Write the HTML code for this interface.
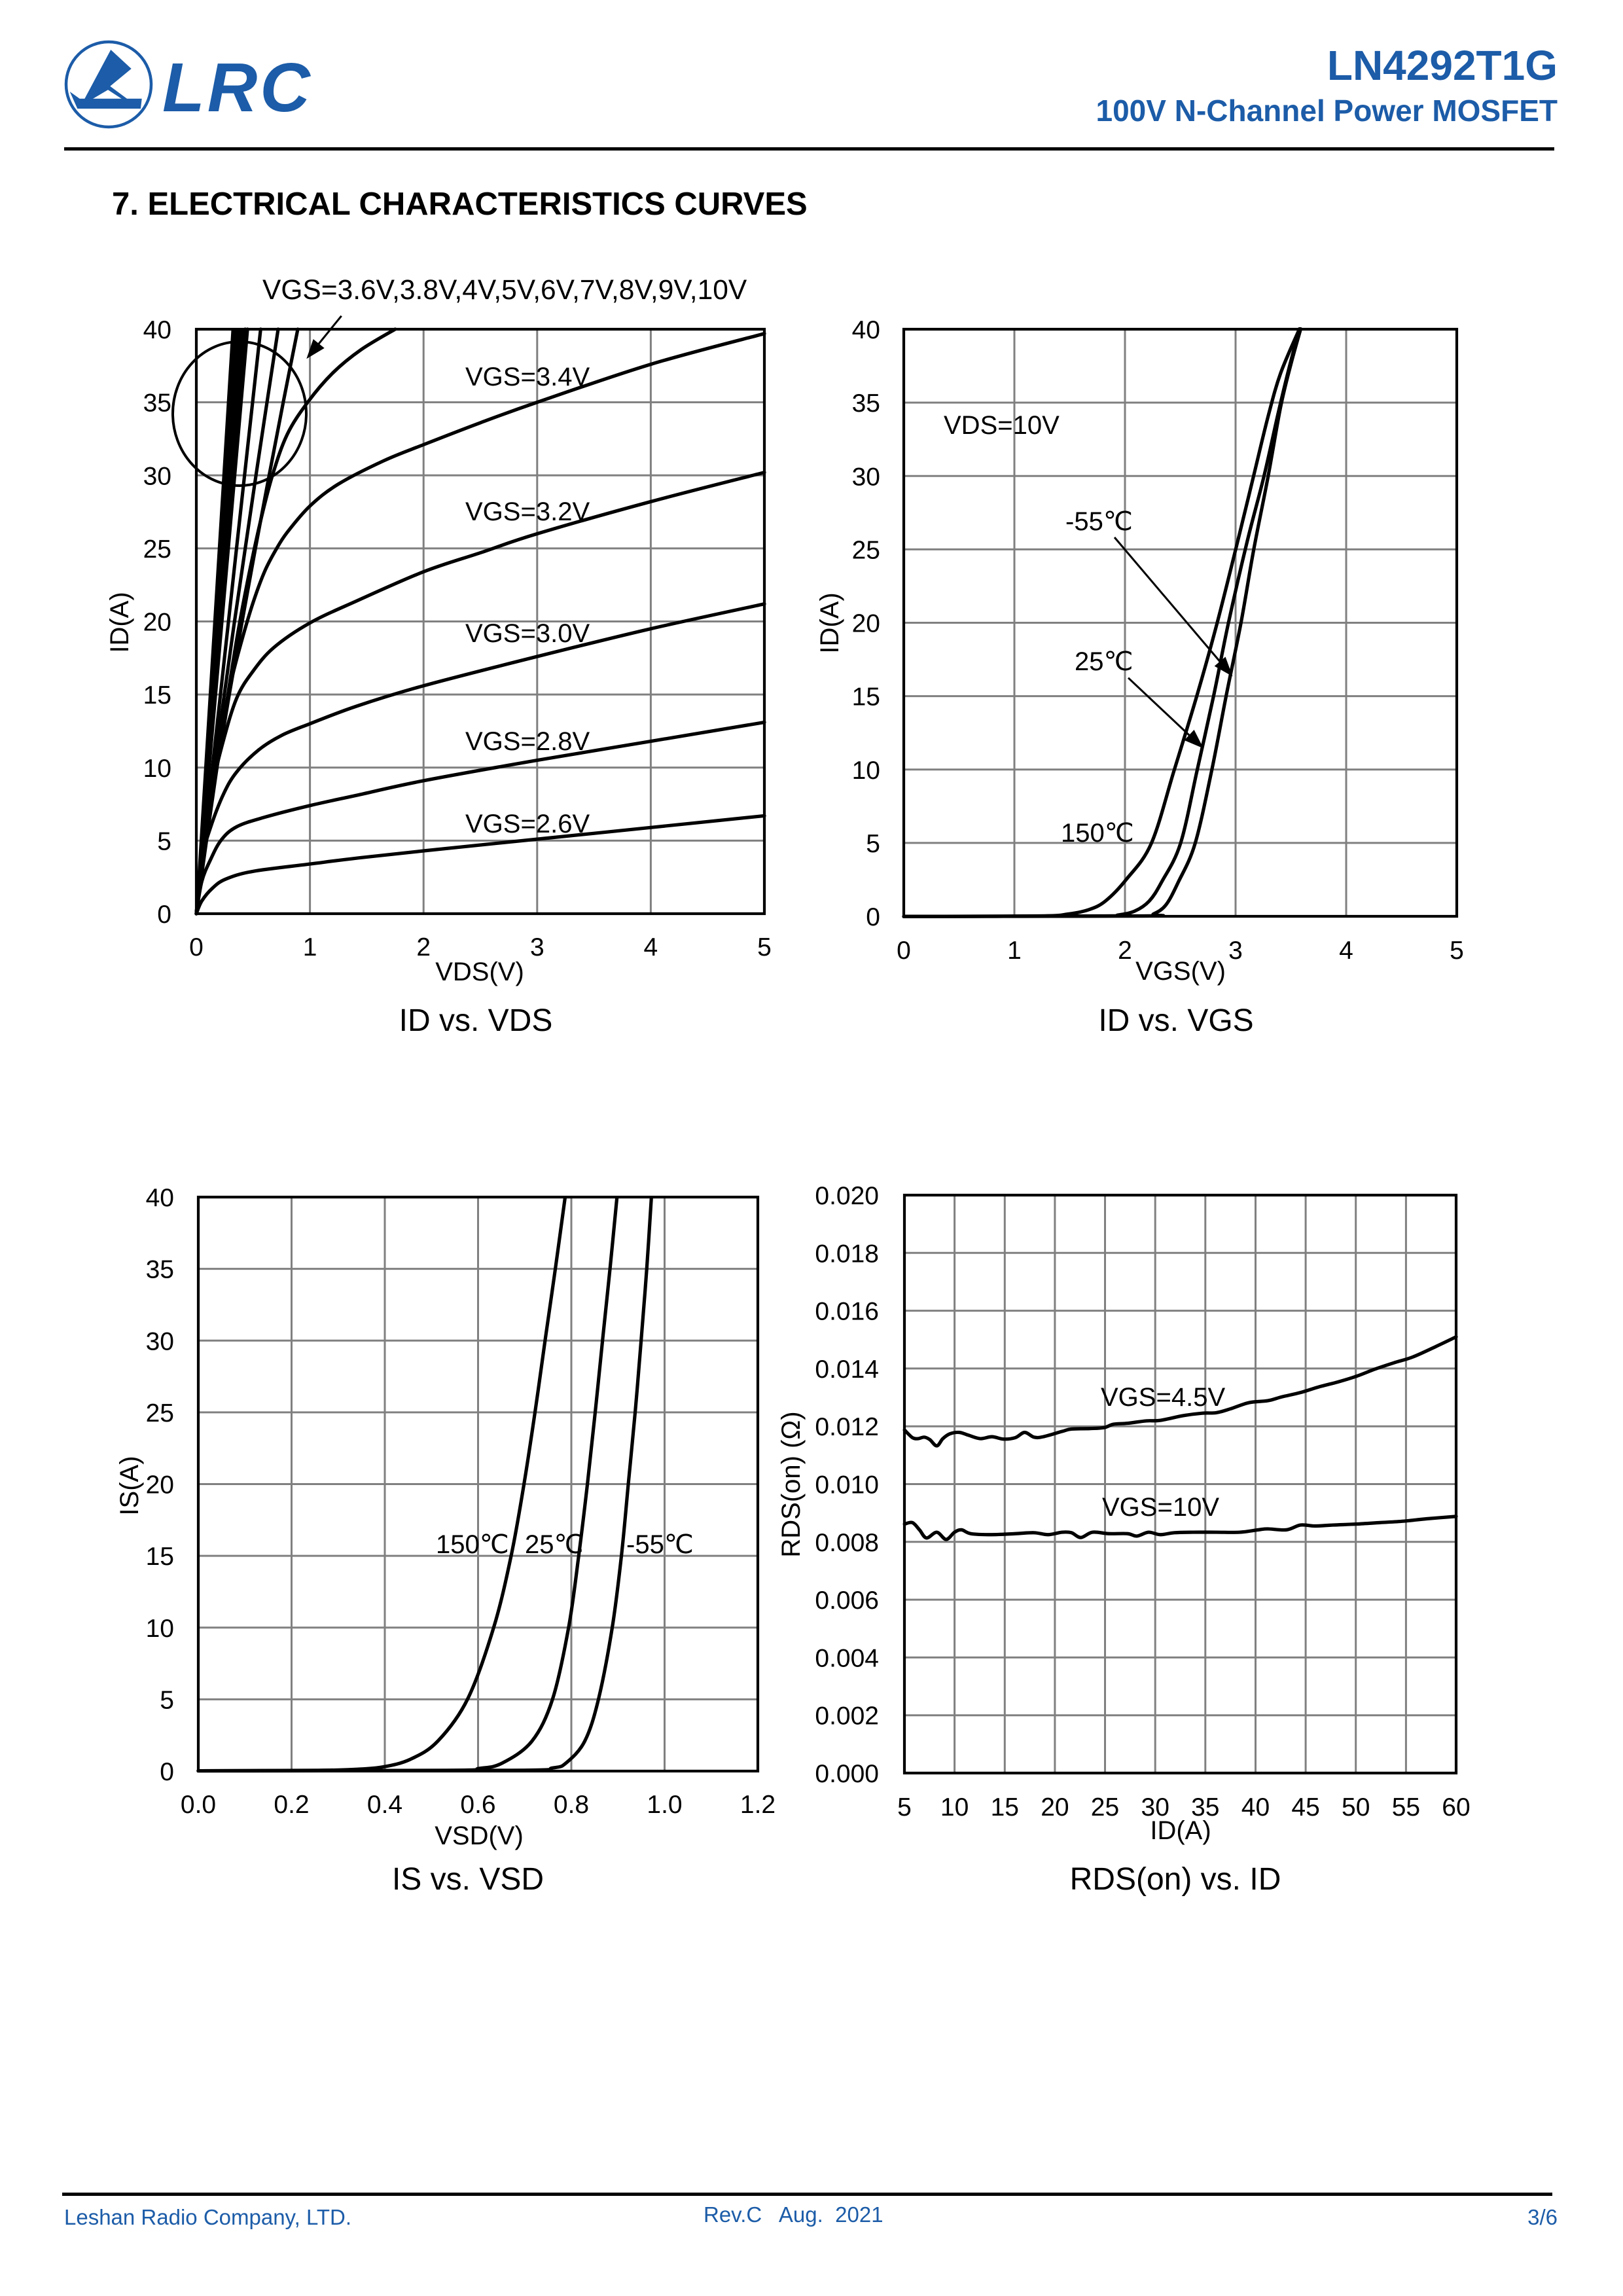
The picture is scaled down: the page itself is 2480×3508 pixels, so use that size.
<!DOCTYPE html>
<html><head><meta charset="utf-8"><style>
html,body{margin:0;padding:0;background:#fff;}
svg{display:block;}
text{font-family:"Liberation Sans",Arial,"DejaVu Sans",sans-serif;}
.t{font-size:39px;fill:#000;}
.ax{font-size:40px;fill:#000;}
.ti{font-size:48px;fill:#000;}
.lb{font-size:40px;fill:#000;}
.g{stroke:#808080;stroke-width:3;fill:none;}
.c{fill:none;stroke:#000;stroke-width:5.2;stroke-linejoin:round;stroke-linecap:round;}
.fr{fill:none;stroke:#000;stroke-width:4.2;}
</style></head><body>
<svg width="2480" height="3508" viewBox="0 0 2480 3508" xmlns="http://www.w3.org/2000/svg">
<rect x="0" y="0" width="2480" height="3508" fill="#fff"/>

<!-- Header -->
<circle cx="166" cy="129" r="65" fill="none" stroke="#1c5ca8" stroke-width="4.5"/>
<polygon points="169.3,76 200.7,105 168.3,131.7 196.7,152.7 128.3,152.7" fill="#1c5ca8"/>
<polygon points="165,137.3 141.7,151 186,151" fill="#fff"/>
<polygon points="106.7,140 121.7,150.7 216.7,150.7 215,166 118.3,166" fill="#1c5ca8"/>
<text x="248" y="170" style="font-size:106px;font-weight:bold;font-style:italic;fill:#1c5ca8;letter-spacing:4px">LRC</text>
<text x="2380" y="122" text-anchor="end" style="font-size:64px;font-weight:bold;fill:#1c5ca8">LN4292T1G</text>
<text x="2380" y="185" text-anchor="end" style="font-size:46px;font-weight:bold;fill:#1c5ca8">100V N-Channel Power MOSFET</text>
<rect x="98" y="225" width="2277" height="5" fill="#000"/>
<text x="171" y="328" style="font-size:49px;font-weight:bold;fill:#000">7. ELECTRICAL CHARACTERISTICS CURVES</text>

<!-- ============ Chart 1: ID vs VDS ============ -->
<g class="g">
<line x1="473.6" y1="503" x2="473.6" y2="1396"/><line x1="647.2" y1="503" x2="647.2" y2="1396"/>
<line x1="820.8" y1="503" x2="820.8" y2="1396"/><line x1="994.4" y1="503" x2="994.4" y2="1396"/>
<line x1="300" y1="1284.4" x2="1168" y2="1284.4"/><line x1="300" y1="1172.75" x2="1168" y2="1172.75"/>
<line x1="300" y1="1061.1" x2="1168" y2="1061.1"/><line x1="300" y1="949.5" x2="1168" y2="949.5"/>
<line x1="300" y1="837.9" x2="1168" y2="837.9"/><line x1="300" y1="726.25" x2="1168" y2="726.25"/>
<line x1="300" y1="614.6" x2="1168" y2="614.6"/>
</g>
<g transform="translate(300 1396) scale(173.6 -22.325)">
<polyline class="c" vector-effect="non-scaling-stroke" points="0,0 0.048,0.87 0.144,1.76 0.26,2.37 0.5,2.9 1,3.4 1.41,3.8 2,4.3 3,5.1 4,5.9 5,6.7"/>
<polyline class="c" vector-effect="non-scaling-stroke" points="0,0 0.048,2.2 0.125,3.7 0.22,5.05 0.355,5.95 0.6,6.6 1,7.4 1.41,8.1 2,9.1 3,10.5 4,11.8 5,13.1"/>
<polyline class="c" vector-effect="non-scaling-stroke" points="0,0 0.048,3.7 0.125,5.9 0.24,8.2 0.355,9.7 0.547,11.2 0.75,12.2 1,13 1.41,14.2 2,15.6 3,17.6 4,19.5 5,21.2"/>
<polyline class="c" vector-effect="non-scaling-stroke" points="0,0 0.048,4.4 0.125,8.2 0.24,11.9 0.355,14.75 0.49,16.5 0.68,18.2 1,19.9 1.41,21.4 2,23.4 2.5,24.7 3,26 4,28.2 5,30.2"/>
<polyline class="c" vector-effect="non-scaling-stroke" points="0,0 0.1,6.5 0.2,11.8 0.3,15.7 0.4,18.7 0.5,21.3 0.6,23.4 0.7,24.9 0.8,26.1 1,27.9 1.25,29.4 1.65,31 2,32.1 2.5,33.6 3,35 4,37.6 5,39.7"/>
<polyline class="c" vector-effect="non-scaling-stroke" points="0,0 0.1,5.6 0.2,11 0.3,16.1 0.374,19.6 0.46,23.1 0.56,26.7 0.67,30 0.8,32.8 0.98,35 1.2,37 1.45,38.6 1.75,40"/>
<polyline class="c" vector-effect="non-scaling-stroke" points="0,0 0.06,5 0.181,10 0.29,15 0.403,20 0.52,25 0.641,30 0.765,35 0.893,40"/>
<polyline class="c" vector-effect="non-scaling-stroke" points="0,0 0.157,10 0.336,20 0.525,30 0.72,40"/>
<line x1="0" y1="0" x2="0.566" y2="40" class="c" vector-effect="non-scaling-stroke"/>
<line x1="0" y1="0" x2="0.45" y2="40" class="c" vector-effect="non-scaling-stroke"/>
<line x1="0" y1="0" x2="0.43" y2="40" class="c" vector-effect="non-scaling-stroke"/>
<polygon points="0,0 0.32,40 0.41,40" fill="#000" stroke="#000" stroke-width="4" vector-effect="non-scaling-stroke"/>
</g>
<ellipse cx="366" cy="632" rx="102" ry="110" fill="none" stroke="#000" stroke-width="4"/>
<line x1="521.7" y1="482.7" x2="482" y2="531.5" stroke="#000" stroke-width="3"/>
<polygon points="468.3,548.3 478.7,518.1 495.7,531.9" fill="#000"/>
<rect x="300" y="503" width="868" height="893" class="fr"/>
<text class="lb" x="401" y="457" style="font-size:42.5px">VGS=3.6V,3.8V,4V,5V,6V,7V,8V,9V,10V</text>
<text class="lb" x="711" y="589">VGS=3.4V</text>
<text class="lb" x="711" y="795">VGS=3.2V</text>
<text class="lb" x="711" y="981">VGS=3.0V</text>
<text class="lb" x="711" y="1146">VGS=2.8V</text>
<text class="lb" x="711" y="1272">VGS=2.6V</text>
<g class="t" text-anchor="end">
<text x="262" y="1410">0</text><text x="262" y="1298.4">5</text><text x="262" y="1186.75">10</text>
<text x="262" y="1075.1">15</text><text x="262" y="963.5">20</text><text x="262" y="851.9">25</text>
<text x="262" y="740.25">30</text><text x="262" y="628.6">35</text><text x="262" y="517">40</text>
</g>
<g class="t" text-anchor="middle">
<text x="300" y="1460">0</text><text x="473.6" y="1460">1</text><text x="647.2" y="1460">2</text>
<text x="820.8" y="1460">3</text><text x="994.4" y="1460">4</text><text x="1168" y="1460">5</text>
</g>
<text class="ax" x="733" y="1498" text-anchor="middle">VDS(V)</text>
<text class="ax" transform="translate(196 951) rotate(-90)" text-anchor="middle">ID(A)</text>
<text class="ti" x="727" y="1575" text-anchor="middle">ID vs. VDS</text>

<!-- ============ Chart 2: ID vs VGS ============ -->
<g class="g">
<line x1="1550" y1="503" x2="1550" y2="1400"/><line x1="1719" y1="503" x2="1719" y2="1400"/>
<line x1="1888" y1="503" x2="1888" y2="1400"/><line x1="2057" y1="503" x2="2057" y2="1400"/>
<line x1="1381" y1="1287.9" x2="2226" y2="1287.9"/><line x1="1381" y1="1175.75" x2="2226" y2="1175.75"/>
<line x1="1381" y1="1063.6" x2="2226" y2="1063.6"/><line x1="1381" y1="951.5" x2="2226" y2="951.5"/>
<line x1="1381" y1="839.4" x2="2226" y2="839.4"/><line x1="1381" y1="727.25" x2="2226" y2="727.25"/>
<line x1="1381" y1="615.1" x2="2226" y2="615.1"/>
</g>
<g transform="translate(1300 460) scale(0.63776 0.73341)">
<polyline class="c" vector-effect="non-scaling-stroke" points="127,1282 450,1281 520,1277 570,1268 610,1250 660,1205 720,1130 775,977 830,820 878,670 930,490 965,365 1000,240 1030,150 1075,58"/>
<polyline class="c" vector-effect="non-scaling-stroke" points="127,1282 600,1281 640,1279 680,1271 715,1250 745,1210 790,1130 830,977 870,820 905,670 950,500 990,365 1025,230 1050,140 1075,58"/>
<polyline class="c" vector-effect="non-scaling-stroke" points="127,1282 700,1281 725,1277 755,1258 785,1210 825,1130 865,977 900,820 935,670 965,520 1000,365 1030,220 1055,130 1078,58"/>
</g>
<line x1="1703" y1="821" x2="1866" y2="1013" stroke="#000" stroke-width="3"/>
<polygon points="1883.5,1033.5 1855.7,1017.7 1872.5,1003.5" fill="#000"/>
<line x1="1724" y1="1035.7" x2="1819" y2="1125" stroke="#000" stroke-width="3"/>
<polygon points="1839,1143.5 1809.6,1131 1824.6,1115" fill="#000"/>
<rect x="1381" y="503" width="845" height="897" class="fr"/>
<text class="lb" x="1442" y="663">VDS=10V</text>
<text class="lb" x="1628" y="810">-55℃</text>
<text class="lb" x="1642" y="1024">25℃</text>
<text class="lb" x="1621" y="1286">150℃</text>
<g class="t" text-anchor="end">
<text x="1345" y="1414">0</text><text x="1345" y="1302">5</text><text x="1345" y="1189.75">10</text>
<text x="1345" y="1077.6">15</text><text x="1345" y="965.5">20</text><text x="1345" y="853.4">25</text>
<text x="1345" y="741.25">30</text><text x="1345" y="629.1">35</text><text x="1345" y="517">40</text>
</g>
<g class="t" text-anchor="middle">
<text x="1381" y="1465">0</text><text x="1550" y="1465">1</text><text x="1719" y="1465">2</text>
<text x="1888" y="1465">3</text><text x="2057" y="1465">4</text><text x="2226" y="1465">5</text>
</g>
<text class="ax" x="1804" y="1497" text-anchor="middle">VGS(V)</text>
<text class="ax" transform="translate(1281 952) rotate(-90)" text-anchor="middle">ID(A)</text>
<text class="ti" x="1797" y="1575" text-anchor="middle">ID vs. VGS</text>

<!-- ============ Chart 3: IS vs VSD ============ -->
<g class="g">
<line x1="445.5" y1="1829" x2="445.5" y2="2706"/><line x1="588" y1="1829" x2="588" y2="2706"/>
<line x1="730.5" y1="1829" x2="730.5" y2="2706"/><line x1="873" y1="1829" x2="873" y2="2706"/>
<line x1="1015.5" y1="1829" x2="1015.5" y2="2706"/>
<line x1="303" y1="2596.4" x2="1158" y2="2596.4"/><line x1="303" y1="2486.75" x2="1158" y2="2486.75"/>
<line x1="303" y1="2377.1" x2="1158" y2="2377.1"/><line x1="303" y1="2267.5" x2="1158" y2="2267.5"/>
<line x1="303" y1="2157.9" x2="1158" y2="2157.9"/><line x1="303" y1="2048.25" x2="1158" y2="2048.25"/>
<line x1="303" y1="1938.6" x2="1158" y2="1938.6"/>
</g>
<g transform="translate(150 1780) scale(0.70151 0.73341)">
<polyline class="c" vector-effect="non-scaling-stroke" points="218,1262 480,1261 560,1259 620,1254 680,1238 740,1200 805,1112 862,962 900,812 928,662 952,512 974,362 996,215 1017,68"/>
<polyline class="c" vector-effect="non-scaling-stroke" points="218,1262 760,1261 830,1257 880,1246 945,1200 990,1112 1025,962 1047,812 1066,662 1083,512 1099,362 1115,215 1130,68"/>
<polyline class="c" vector-effect="non-scaling-stroke" points="218,1262 900,1261 990,1256 1020,1245 1060,1200 1090,1112 1120,962 1140,812 1155,662 1170,512 1183,362 1195,215 1205,68"/>
</g>
<rect x="303" y="1829" width="855" height="877" class="fr"/>
<text class="lb" x="666" y="2373">150℃</text>
<text class="lb" x="802" y="2373">25℃</text>
<text class="lb" x="957" y="2373">-55℃</text>
<g class="t" text-anchor="end">
<text x="266" y="2720">0</text><text x="266" y="2610.4">5</text><text x="266" y="2500.75">10</text>
<text x="266" y="2391.1">15</text><text x="266" y="2281.5">20</text><text x="266" y="2171.9">25</text>
<text x="266" y="2062.25">30</text><text x="266" y="1952.6">35</text><text x="266" y="1843">40</text>
</g>
<g class="t" text-anchor="middle">
<text x="303" y="2770">0.0</text><text x="445.5" y="2770">0.2</text><text x="588" y="2770">0.4</text>
<text x="730.5" y="2770">0.6</text><text x="873" y="2770">0.8</text><text x="1015.5" y="2770">1.0</text>
<text x="1158" y="2770">1.2</text>
</g>
<text class="ax" x="732" y="2818" text-anchor="middle">VSD(V)</text>
<text class="ax" transform="translate(211 2270) rotate(-90)" text-anchor="middle">IS(A)</text>
<text class="ti" x="715" y="2887" text-anchor="middle">IS vs. VSD</text>

<!-- ============ Chart 4: RDS(on) vs ID ============ -->
<g class="g">
<line x1="1458.6" y1="1826" x2="1458.6" y2="2709"/><line x1="1535.3" y1="1826" x2="1535.3" y2="2709"/>
<line x1="1611.9" y1="1826" x2="1611.9" y2="2709"/><line x1="1688.5" y1="1826" x2="1688.5" y2="2709"/>
<line x1="1765.2" y1="1826" x2="1765.2" y2="2709"/><line x1="1841.8" y1="1826" x2="1841.8" y2="2709"/>
<line x1="1918.5" y1="1826" x2="1918.5" y2="2709"/><line x1="1995.1" y1="1826" x2="1995.1" y2="2709"/>
<line x1="2071.7" y1="1826" x2="2071.7" y2="2709"/><line x1="2148.4" y1="1826" x2="2148.4" y2="2709"/>
<line x1="1382" y1="2620.7" x2="2225" y2="2620.7"/><line x1="1382" y1="2532.4" x2="2225" y2="2532.4"/>
<line x1="1382" y1="2444.1" x2="2225" y2="2444.1"/><line x1="1382" y1="2355.8" x2="2225" y2="2355.8"/>
<line x1="1382" y1="2267.5" x2="2225" y2="2267.5"/><line x1="1382" y1="2179.2" x2="2225" y2="2179.2"/>
<line x1="1382" y1="2090.9" x2="2225" y2="2090.9"/><line x1="1382" y1="2002.6" x2="2225" y2="2002.6"/>
<line x1="1382" y1="1914.3" x2="2225" y2="1914.3"/>
</g>
<g transform="translate(1180 1780) scale(0.714286 0.73341)">
<polyline class="c" vector-effect="non-scaling-stroke" points="283,552 300,568 312,570 325,567 337,572 352,585 365,570 380,560 400,557 420,563 445,570 470,566 495,571 520,568 540,557 560,567 580,566 620,555 640,550 680,549 710,547 730,540 760,538 800,533 830,532 880,522 920,517 950,516 980,508 1020,495 1060,491 1090,483 1130,474 1170,462 1210,452 1250,440 1290,425 1330,412 1370,400 1420,378 1463,358"/>
<polyline class="c" vector-effect="non-scaling-stroke" points="283,748 300,745 315,760 330,777 352,765 372,780 390,765 405,760 425,768 470,770 520,768 560,766 590,770 620,765 640,766 660,776 685,765 720,768 760,768 780,773 805,765 830,770 860,766 900,765 950,765 1000,765 1040,760 1060,758 1100,760 1130,750 1160,752 1200,750 1250,748 1300,745 1350,742 1400,737 1463,732"/>
</g>
<rect x="1382" y="1826" width="843" height="883" class="fr"/>
<text class="lb" x="1682" y="2148">VGS=4.5V</text>
<text class="lb" x="1684" y="2316">VGS=10V</text>
<g class="t" text-anchor="end">
<text x="1343" y="2723">0.000</text><text x="1343" y="2634.7">0.002</text><text x="1343" y="2546.4">0.004</text>
<text x="1343" y="2458.1">0.006</text><text x="1343" y="2369.8">0.008</text><text x="1343" y="2281.5">0.010</text>
<text x="1343" y="2193.2">0.012</text><text x="1343" y="2104.9">0.014</text><text x="1343" y="2016.6">0.016</text>
<text x="1343" y="1928.3">0.018</text><text x="1343" y="1840">0.020</text>
</g>
<g class="t" text-anchor="middle">
<text x="1382" y="2774">5</text><text x="1458.6" y="2774">10</text><text x="1535.3" y="2774">15</text>
<text x="1611.9" y="2774">20</text><text x="1688.5" y="2774">25</text><text x="1765.2" y="2774">30</text>
<text x="1841.8" y="2774">35</text><text x="1918.5" y="2774">40</text><text x="1995.1" y="2774">45</text>
<text x="2071.7" y="2774">50</text><text x="2148.4" y="2774">55</text><text x="2225" y="2774">60</text>
</g>
<text class="ax" x="1804" y="2810" text-anchor="middle">ID(A)</text>
<text class="ax" transform="translate(1222 2268) rotate(-90)" text-anchor="middle">RDS(on) (Ω)</text>
<text class="ti" x="1796" y="2887" text-anchor="middle">RDS(on) vs. ID</text>

<!-- Footer -->
<rect x="95" y="3350" width="2277" height="5" fill="#000"/>
<text x="98" y="3399" style="font-size:33px;fill:#1c5ca8">Leshan Radio Company, LTD.</text>
<text x="1075" y="3395" style="font-size:33px;fill:#1c5ca8;white-space:pre" xml:space="preserve">Rev.C   Aug.  2021</text>
<text x="2380" y="3399" text-anchor="end" style="font-size:33px;fill:#1c5ca8">3/6</text>
</svg>
<script>
(function(){
  var NS='http://www.w3.org/2000/svg';
  var pls=document.querySelectorAll('polyline.c');
  for(var k=0;k<pls.length;k++){
    var pl=pls[k];
    var pts=pl.getAttribute('points').trim().split(/\s+/).map(function(s){var a=s.split(',');return [parseFloat(a[0]),parseFloat(a[1])];});
    if(pts.length<3) continue;
    var d='M'+pts[0][0]+','+pts[0][1];
    for(var i=0;i<pts.length-1;i++){
      var p0=pts[i-1]||pts[i],p1=pts[i],p2=pts[i+1],p3=pts[i+2]||pts[i+1];
      var t=1/6;
      var c1x=p1[0]+(p2[0]-p0[0])*t,c1y=p1[1]+(p2[1]-p0[1])*t;
      var c2x=p2[0]-(p3[0]-p1[0])*t,c2y=p2[1]-(p3[1]-p1[1])*t;
      d+=' C'+c1x+','+c1y+' '+c2x+','+c2y+' '+p2[0]+','+p2[1];
    }
    var p=document.createElementNS(NS,'path');
    p.setAttribute('d',d);
    p.setAttribute('class','c');
    p.setAttribute('vector-effect','non-scaling-stroke');
    pl.parentNode.replaceChild(p,pl);
  }
})();
</script>
</body></html>
